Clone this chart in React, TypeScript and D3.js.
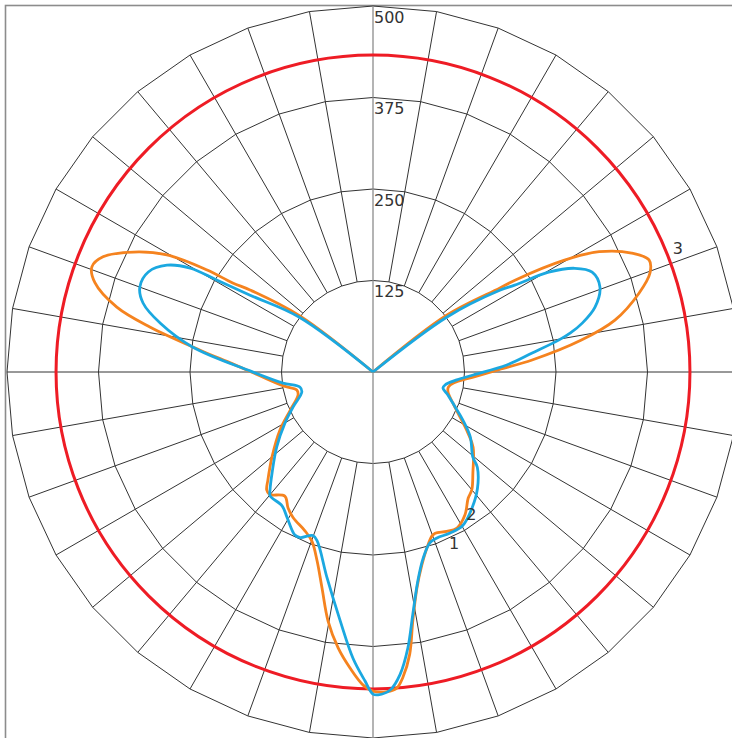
import React from 'react';
import * as d3 from 'd3';

// chart geometry
const WIDTH = 732;
const HEIGHT = 738;
const CX = 373;
const CY = 372;
const R_MAX = 366;

// radial axis
const ringValues = [125, 250, 375, 500];
const ringLabels = ['125', '250', '375', '500'];
const maxValue = 500;

// angles are in degrees, 0 = straight down, positive = to the right
const series1Angles = [
  -180, -127.5, -123.7, -122.4, -121.6, -119.6, -116.6, -113.1, -110.5, -107.8, -104.2, -101.4, -97.2, -93.3,
  -88.5, -81.2, -76.7, -73, -65.4, -58, -50, -44.2, -42, -40.2, -35.4, -32, -28.7, -23.2, -19.8, -16.5,
  -13.3, -10.2, -7.2, -4.4, -1.8, 0, 2.5, 4.3, 5.6, 7.4, 9.1, 11.5, 14.2, 17.1, 19.8, 21.1, 24.8, 28.3,
  32.8, 37, 40, 44.7, 53.1, 57.3, 62.6, 68.8, 75.1, 78.7, 82.2, 87.1, 91.1, 94.3, 98.7, 102.1, 106.5,
  109.7, 112.1, 114.7, 118, 120.3, 122.9, 123.5, 127.6, 180,
];
const series1Values = [
  0, 126, 202, 227, 266, 324, 366, 401, 410, 399, 361, 311, 238, 192,
  157, 124, 107, 107, 124, 150, 180, 206, 217, 219, 208, 219, 227, 236, 246, 269,
  303, 346, 380, 406, 428, 436, 437, 433, 419, 389, 344, 301, 272, 251, 238, 236, 240, 242,
  232, 216, 210, 194, 171, 154, 134, 117, 106, 105, 111, 137, 172, 218, 288, 338, 379,
  402, 407, 389, 350, 303, 231, 208, 127, 0,
];

const series2Angles = [
  -180, -126.6, -122, -120.5, -119.6, -117.4, -114, -110, -106.7, -102.9, -97.9, -90.5, -83, -78.4,
  -74.3, -66.4, -59.9, -52, -45, -41.1, -39.7, -34.2, -30.5, -25.6, -23.7, -20.2, -18.3, -12.6, -7.5,
  -4, -1.5, 0, 0.9, 3.1, 5.1, 7.2, 9.3, 12.1, 15, 18.4, 21.1, 25.6, 30.3, 36, 41.8, 47.6, 49.6, 56.2,
  61.9, 66.9, 73, 77.1, 79.8, 84.6, 88.3, 93, 96.8, 99.8, 101.2, 103.2, 106.3, 110.5, 114.5,
  117.2, 119.6, 121.5, 122.8, 126.6, 180,
];
const series2Values = [
  0, 126, 198, 247, 287, 317, 336, 339, 328, 298, 249, 168, 124, 102,
  101, 119, 139, 167, 195, 214, 220, 221, 231, 247, 247, 238, 243, 288, 343,
  392, 422, 440, 441, 435, 415, 380, 336, 292, 264, 246, 243, 244, 243, 230, 214, 193, 179, 160,
  139, 122, 107, 98, 100, 115, 137, 183, 219, 258, 275, 294, 316, 331, 329,
  310, 276, 227, 206, 126, 0,
];

// limit circle (series 3)
const limitValue = 433;

// series labels: text, angle, value
const labelTexts = ['1', '2', '3'];
const labelAngles = [25.3, 34.7, 112];
const labelValues = [259, 236, 449];

const COLORS = { s1: '#f5831f', s2: '#1ba8e0', limit: '#ee1c25', grid: '#333333', axis: '#8c8c8c' };

const toRad = (deg: number) => ((180 - deg) * Math.PI) / 180;

export default function App() {
  const r = d3.scaleLinear().domain([0, maxValue]).range([0, R_MAX]);
  const spokeAngles = d3.range(0, 360, 10);

  const pt = (deg: number, v: number): [number, number] => {
    const a = toRad(deg);
    return [CX + r(v) * Math.sin(a), CY - r(v) * Math.cos(a)];
  };

  const ringPath = (v: number) =>
    spokeAngles.map((deg, i) => `${i === 0 ? 'M' : 'L'}${pt(deg, v).join(',')}`).join('') + 'Z';

  const radial = d3
    .lineRadial<[number, number]>()
    .angle(d => toRad(d[0]))
    .radius(d => r(d[1]))
    .curve(d3.curveCatmullRom.alpha(0.5));

  const s1 = series1Angles.map((a, i) => [a, series1Values[i]] as [number, number]);
  const s2 = series2Angles.map((a, i) => [a, series2Values[i]] as [number, number]);

  return (
    <svg
      width={WIDTH}
      height={HEIGHT}
      style={{ position: 'absolute', left: 0, top: 0, background: '#fff' }}
      fontFamily="'DejaVu Sans', sans-serif"
    >
      <rect x={5.5} y={5.5} width={736} height={736} fill="#fff" stroke={COLORS.axis} strokeWidth={1.6} />
      <g fill="none" stroke={COLORS.grid} strokeWidth={1}>
        {ringValues.map(v => (
          <path key={v} d={ringPath(v)} />
        ))}
        {spokeAngles
          .filter(a => a % 90 !== 0)
          .map(a => {
            const [x1, y1] = pt(a, ringValues[0]);
            const [x2, y2] = pt(a, maxValue);
            return <line key={a} x1={x1} y1={y1} x2={x2} y2={y2} />;
          })}
        <line x1={pt(270, maxValue)[0]} y1={CY} x2={pt(90, maxValue)[0]} y2={CY} />
      </g>
      <line x1={CX} y1={pt(180, maxValue)[1]} x2={CX} y2={pt(0, maxValue)[1]} stroke={COLORS.axis} strokeWidth={1.3} />

      <circle cx={CX} cy={CY} r={r(limitValue)} fill="none" stroke={COLORS.limit} strokeWidth={3} />
      <path d={radial(s1) || ''} transform={`translate(${CX},${CY})`} fill="none" stroke={COLORS.s1} strokeWidth={2.8} strokeLinejoin="round" />
      <path d={radial(s2) || ''} transform={`translate(${CX},${CY})`} fill="none" stroke={COLORS.s2} strokeWidth={2.8} strokeLinejoin="round" />

      <g fill="#333" fontSize={16}>
        {ringValues.map((v, i) => (
          <text key={v} x={CX + 1} y={CY - r(v) + 16.5}>
            {ringLabels[i]}
          </text>
        ))}
        {labelTexts.map((t, i) => {
          const [x, y] = pt(labelAngles[i], labelValues[i]);
          return (
            <text key={t} x={x} y={y} textAnchor="middle" dominantBaseline="central">
              {t}
            </text>
          );
        })}
      </g>
    </svg>
  );
}
